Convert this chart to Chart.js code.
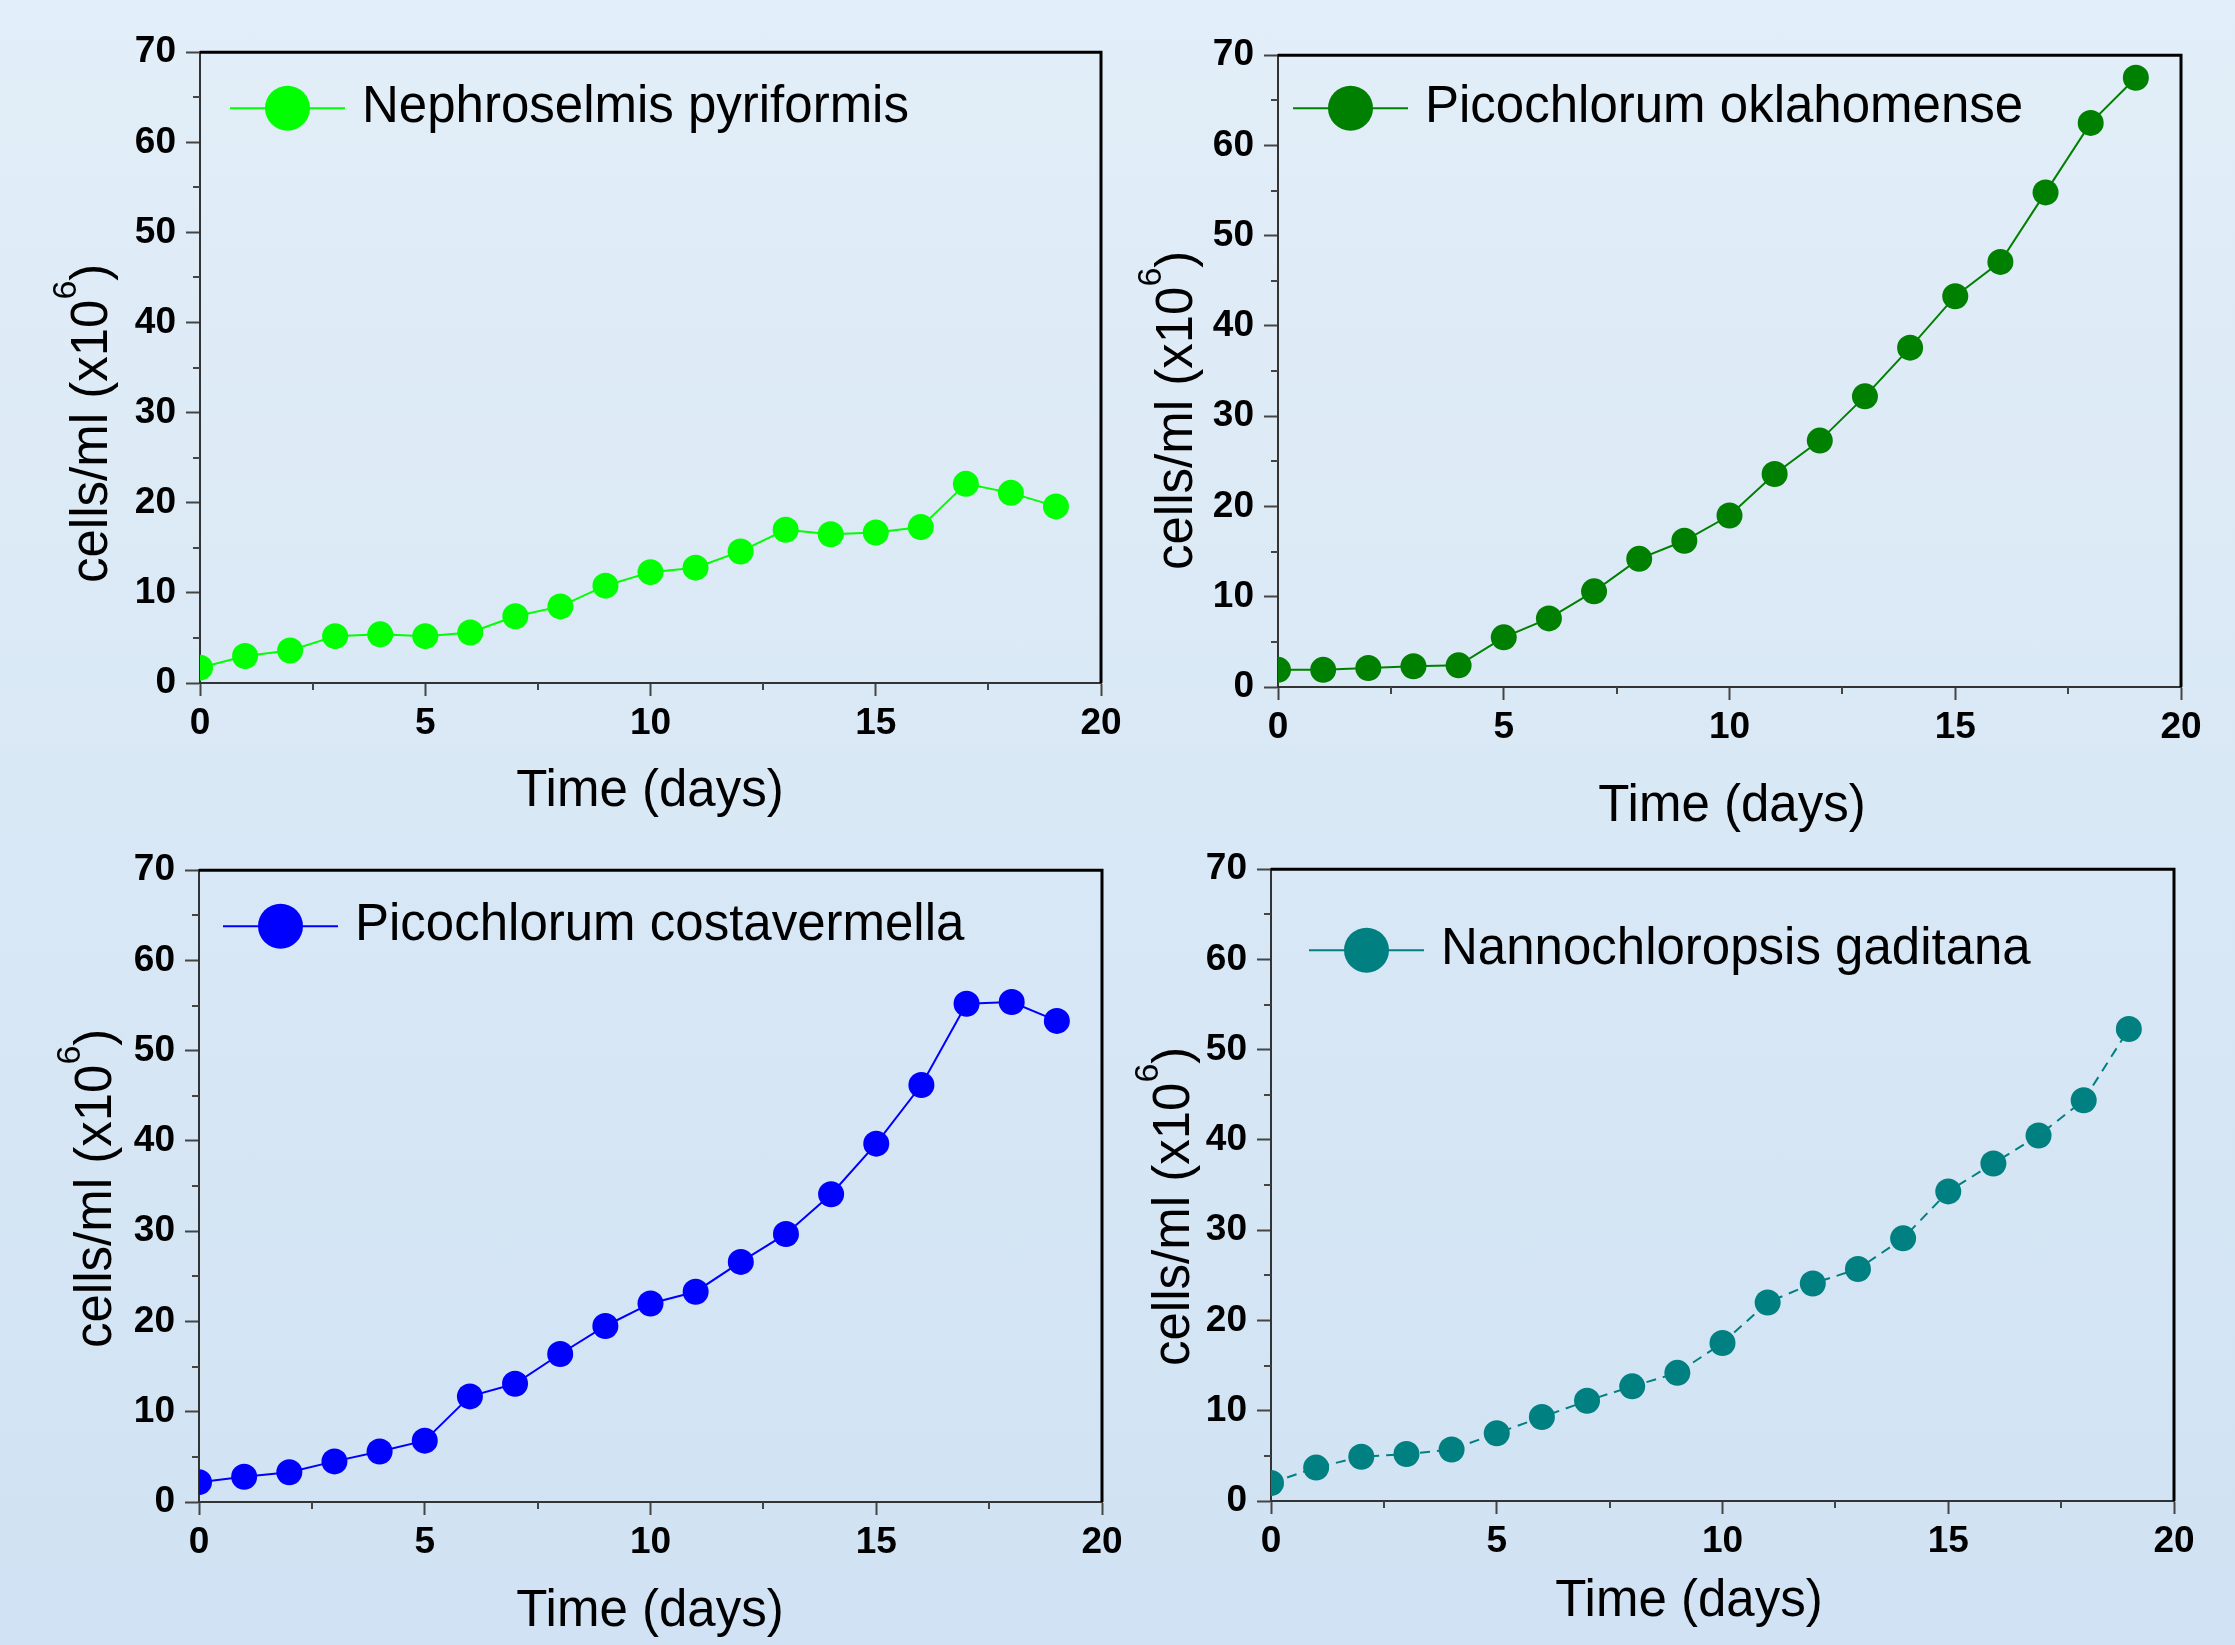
<!DOCTYPE html>
<html>
<head>
<meta charset="utf-8">
<script src="https://cdn.jsdelivr.net/npm/chart.js@4.4.1/dist/chart.umd.min.js"></script>
<style>
  html, body { margin: 0; padding: 0; overflow: hidden; }
  body {
    width: 2235px;
    height: 1645px;
    position: relative;
    background: linear-gradient(to bottom, #e2eef8, #d0e2f3);
  }
  canvas { position: absolute; }
</style>
</head>
<body>
<canvas id="c1"></canvas>
<canvas id="c2"></canvas>
<canvas id="c3"></canvas>
<canvas id="c4"></canvas>
<script>
// data (cells/ml x10^6 per day)
const days = [0, 1, 2, 3, 4, 5, 6, 7, 8, 9, 10, 11, 12, 13, 14, 15, 16, 17, 18, 19]
const nephroselmis = [1.7, 3.0, 3.6, 5.2, 5.4, 5.2, 5.6, 7.4, 8.5, 10.8, 12.3, 12.8, 14.6, 17.0, 16.5, 16.7, 17.3, 22.1, 21.1, 19.6]
const oklahomense = [1.9, 1.9, 2.1, 2.3, 2.4, 5.5, 7.6, 10.6, 14.2, 16.2, 19.0, 23.6, 27.3, 32.2, 37.6, 43.3, 47.1, 54.8, 62.5, 67.5]
const costavermella = [2.2, 2.8, 3.3, 4.5, 5.6, 6.8, 11.7, 13.1, 16.4, 19.5, 22.0, 23.3, 26.6, 29.7, 34.1, 39.7, 46.2, 55.2, 55.4, 53.3]
const gaditana = [2.0, 3.7, 4.9, 5.2, 5.7, 7.5, 9.3, 11.1, 12.7, 14.2, 17.5, 22.0, 24.1, 25.7, 29.1, 34.3, 37.4, 40.5, 44.4, 52.3]

const xTickStep = 5
const xMinorTicks = [2.5, 7.5, 12.5, 17.5]
const yTickStep = 10
const yMinorTicks = [5, 15, 25, 35, 45, 55, 65]
const xTitle = 'Time (days)'
const yTitle = 'cells/ml (x10'
const yTitleSup = '6'

const FONT = "'Liberation Sans', Arial, sans-serif"

// plot area placement of every panel (page pixels)
const panels = [
  { id: 'c1', label: 'Nephroselmis pyriformis', data: nephroselmis, color: '#00ff00', dash: [],
    left: 200, top: 50, width: 901, height: 633,
    legend: { x: 30, y: 56 }, xTitleAt: { x: 450, y: 109 }, yTitleAt: { x: -93, y: -100 } },
  { id: 'c2', label: 'Picochlorum oklahomense', data: oklahomense, color: '#008000', dash: [],
    left: 1278, top: 53, width: 903, height: 634,
    legend: { x: 15, y: 53 }, xTitleAt: { x: 454, y: 120 }, yTitleAt: { x: -86, y: -117 } },
  { id: 'c3', label: 'Picochlorum costavermella', data: costavermella, color: '#0000ff', dash: [],
    left: 199, top: 868, width: 903, height: 634,
    legend: { x: 24, y: 56 }, xTitleAt: { x: 451, y: 110 }, yTitleAt: { x: -88, y: -154 } },
  { id: 'c4', label: 'Nannochloropsis gaditana', data: gaditana, color: '#008080', dash: [10, 7],
    left: 1271, top: 867, width: 903, height: 634,
    legend: { x: 38, y: 81 }, xTitleAt: { x: 418, y: 101 }, yTitleAt: { x: -82, y: -135 } }
]

const AXIS_W = 200
const AXIS_H = 150
const PAD_TOP = 30
const PAD_RIGHT = 40

// frame, minor ticks, legend and axis titles
const decorations = {
  id: 'decorations',
  afterDraw (chart, args, opts) {
    const ctx = chart.ctx
    const area = chart.chartArea
    const xs = chart.scales.x
    const ys = chart.scales.y
    const p = opts.panel
    ctx.save()

    // top and right frame
    ctx.strokeStyle = '#000'
    ctx.lineWidth = 3
    ctx.beginPath()
    ctx.moveTo(area.left, area.top)
    ctx.lineTo(area.right, area.top)
    ctx.lineTo(area.right, area.bottom)
    ctx.stroke()

    // minor ticks
    ctx.strokeStyle = '#444'
    ctx.lineWidth = 2
    ctx.beginPath()
    yMinorTicks.forEach(v => {
      const y = Math.round(ys.getPixelForValue(v))
      ctx.moveTo(area.left - 7, y)
      ctx.lineTo(area.left, y)
    })
    xMinorTicks.forEach(v => {
      const x = Math.round(xs.getPixelForValue(v))
      ctx.moveTo(x, area.bottom)
      ctx.lineTo(x, area.bottom + 7)
    })
    ctx.stroke()

    // legend: line with a big marker, then the name
    const ds = chart.data.datasets[0]
    const lx = area.left + p.legend.x
    const ly = area.top + p.legend.y
    ctx.strokeStyle = ds.borderColor
    ctx.lineWidth = 2
    ctx.beginPath()
    ctx.moveTo(lx, ly)
    ctx.lineTo(lx + 115, ly)
    ctx.stroke()
    ctx.fillStyle = ds.borderColor
    ctx.beginPath()
    ctx.arc(lx + 57.5, ly, 22.5, 0, Math.PI * 2)
    ctx.fill()
    ctx.fillStyle = '#000'
    ctx.font = '51px ' + FONT
    ctx.textAlign = 'left'
    ctx.textBaseline = 'middle'
    ctx.fillText(ds.label, lx + 132, ly)

    // x title
    ctx.textAlign = 'center'
    ctx.fillText(xTitle, area.left + p.xTitleAt.x, area.bottom + p.xTitleAt.y)

    // y title, rotated, with superscript
    ctx.translate(area.left + p.yTitleAt.x, area.bottom + p.yTitleAt.y)
    ctx.rotate(-Math.PI / 2)
    ctx.textAlign = 'left'
    ctx.textBaseline = 'alphabetic'
    ctx.font = '51px ' + FONT
    ctx.fillText(yTitle, 0, 0)
    let w = ctx.measureText(yTitle).width
    ctx.font = '34px ' + FONT
    ctx.fillText(yTitleSup, w, -31)
    w += ctx.measureText(yTitleSup).width
    ctx.font = '51px ' + FONT
    ctx.fillText(')', w, 0)

    ctx.restore()
  }
}

const tickFont = { family: FONT, size: 37, weight: 'bold' }

panels.forEach(p => {
  const canvas = document.getElementById(p.id)
  canvas.width = p.width + AXIS_W + PAD_RIGHT
  canvas.height = p.height + PAD_TOP + AXIS_H
  canvas.style.left = (p.left - AXIS_W) + 'px'
  canvas.style.top = (p.top - PAD_TOP) + 'px'

  new Chart(canvas.getContext('2d'), {
    type: 'line',
    data: {
      datasets: [{
        label: p.label,
        data: days.map((d, i) => ({ x: d, y: p.data[i] })),
        borderColor: p.color,
        backgroundColor: p.color,
        borderWidth: 2,
        borderDash: p.dash,
        pointRadius: 13,
        pointHoverRadius: 13,
        pointBorderWidth: 0,
        pointBackgroundColor: p.color,
        tension: 0,
        clip: 0
      }]
    },
    options: {
      responsive: false,
      animation: false,
      devicePixelRatio: 1,
      layout: { padding: { left: 0, top: PAD_TOP, right: PAD_RIGHT, bottom: 0 } },
      plugins: {
        legend: { display: false },
        tooltip: { enabled: false },
        decorations: { panel: p }
      },
      scales: {
        x: {
          type: 'linear',
          min: 0,
          max: 20,
          afterFit: scale => { scale.height = AXIS_H },
          ticks: { stepSize: xTickStep, font: tickFont, color: '#000', padding: 6, maxRotation: 0 },
          grid: { drawOnChartArea: false, tickLength: 13, tickColor: '#444', tickWidth: 2 },
          border: { color: '#333', width: 2 }
        },
        y: {
          min: 0,
          max: 70,
          afterFit: scale => { scale.width = AXIS_W },
          ticks: { stepSize: yTickStep, font: tickFont, color: '#000', padding: 10 },
          grid: { drawOnChartArea: false, tickLength: 14, tickColor: '#444', tickWidth: 2 },
          border: { color: '#333', width: 2 }
        }
      }
    },
    plugins: [decorations]
  })
})
</script>
</body>
</html>
